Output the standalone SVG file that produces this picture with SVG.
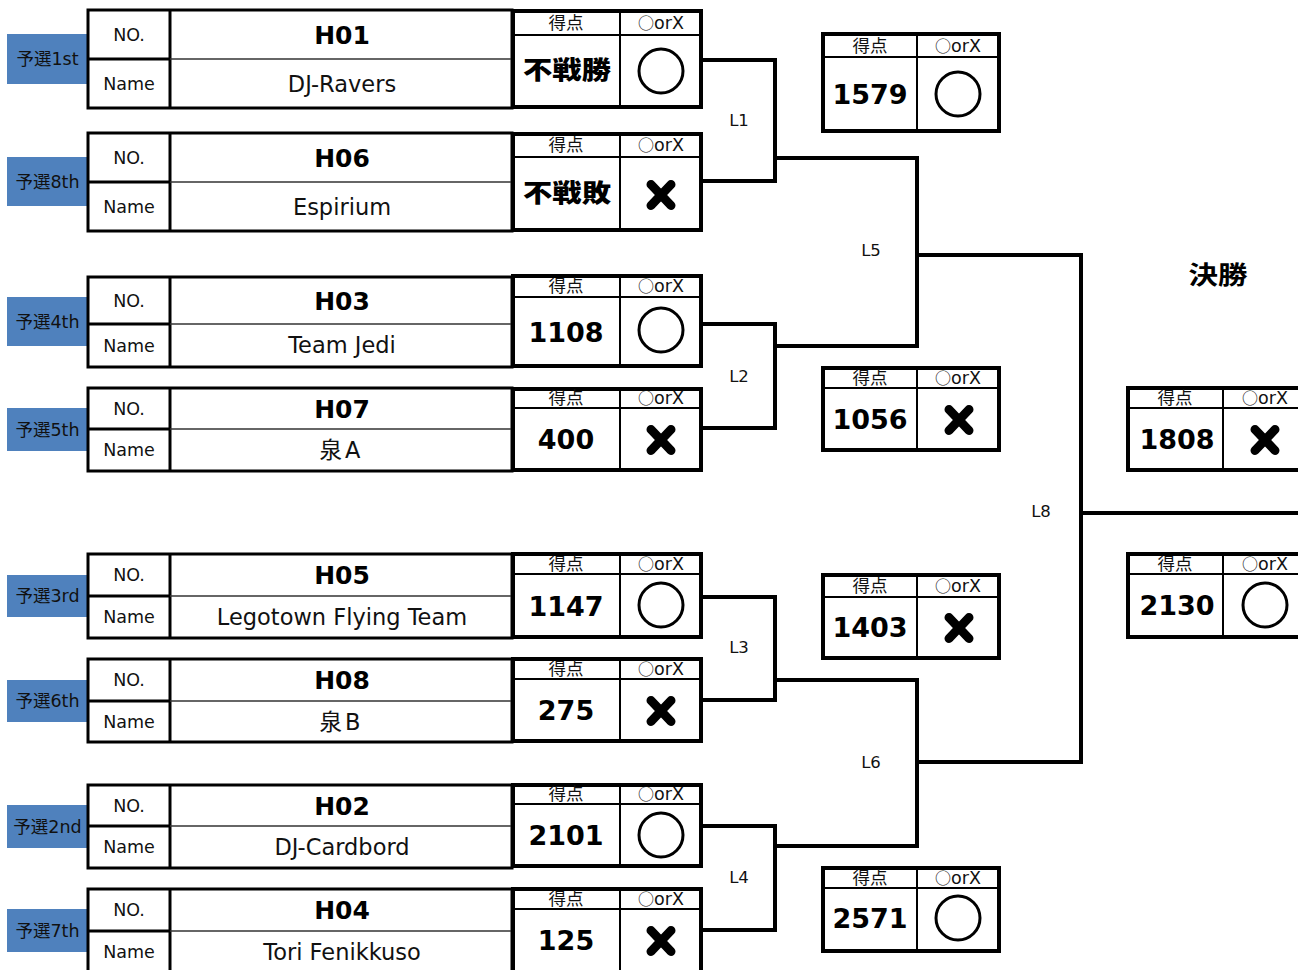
<svg xmlns="http://www.w3.org/2000/svg" width="1298" height="970" viewBox="0 0 1298 970">
<style>
text{font-family:"DejaVu Sans","Noto Sans CJK JP",sans-serif;fill:#111;text-anchor:middle}
.lbl{font-size:17.5px}
.code{font-size:25px;font-weight:bold;fill:#000}
.team{font-size:22.5px}
.hdr{font-size:17.5px}
.hdr tspan{font-family:"Noto Sans CJK JP",sans-serif;font-size:16px}
.num{font-size:27px;font-weight:bold;fill:#000}
.big{font-family:"Noto Sans CJK JP",sans-serif;font-size:25px;font-weight:900;fill:#000}
.ln{font-size:16.5px}
.badge{fill:#4F81BD}
.tbl{fill:#fff;stroke:#000;stroke-width:3}
.thick{stroke:#000;stroke-width:3}
.thin{stroke:#333;stroke-width:1.5}
.box{fill:#fff;stroke:#000;stroke-width:4}
.sep{stroke:#000;stroke-width:2}
.circ{fill:none;stroke:#000;stroke-width:3}
.cross{stroke:#000;stroke-width:9;stroke-linecap:round}
.conn{fill:none;stroke:#000;stroke-width:4}
</style>
<defs>
<g id="mk-o"><circle cx="0" cy="0" r="22" class="circ"/></g>
<g id="mk-x"><line x1="-10" y1="-10.5" x2="10" y2="10.5" class="cross"/><line x1="10" y1="-10.5" x2="-10" y2="10.5" class="cross"/></g>
</defs>
<rect width="1298" height="970" fill="#fff"/>

<g id="connectors">
<path class="conn" d="M702,60 H775 V181 H702"/>
<path class="conn" d="M702,324 H775 V428 H702"/>
<path class="conn" d="M702,597 H775 V700 H702"/>
<path class="conn" d="M702,826 H775 V930 H702"/>
<path class="conn" d="M775,158 H917 V346 H775"/>
<path class="conn" d="M775,680 H917 V846 H775"/>
<path class="conn" d="M917,255 H1081 V762 H917"/>
<path class="conn" d="M1081,513 H1300"/>
<text class="ln" x="739" y="126">L1</text>
<text class="ln" x="739" y="382">L2</text>
<text class="ln" x="739" y="653">L3</text>
<text class="ln" x="739" y="883">L4</text>
<text class="ln" x="871" y="256">L5</text>
<text class="ln" x="871" y="768">L6</text>
<text class="ln" x="1041" y="517">L8</text>
</g>

<!-- Row 1 -->
<g id="team-h01">
<rect class="badge" x="7" y="34" width="81" height="50"/>
<text class="lbl" x="47.5" y="65.4">予選1st</text>
<rect class="tbl" x="88" y="10" width="424" height="98"/>
<line class="thick" x1="170" y1="10" x2="170" y2="108"/>
<line class="thick" x1="88" y1="59" x2="170" y2="59"/>
<line class="thin" x1="170" y1="59" x2="512" y2="59"/>
<text class="lbl" x="129" y="40.9">NO.</text>
<text class="lbl" x="129" y="89.9">Name</text>
<text class="code" x="342" y="43.6">H01</text>
<text class="team" x="342" y="91.7">DJ-Ravers</text>
</g>
<g id="score-h01">
<rect class="box" x="513" y="11" width="188" height="96"/>
<line class="sep" x1="513" y1="35" x2="701" y2="35"/>
<line class="sep" x1="620" y1="11" x2="620" y2="107"/>
<text class="hdr" x="566" y="28.5">得点</text>
<text class="hdr" x="661" y="28.5"><tspan>○</tspan>orX</text>
<text class="big" x="567" y="79" textLength="88" lengthAdjust="spacingAndGlyphs">不戦勝</text>
<use href="#mk-o" x="661" y="71"/>
</g>

<!-- Row 2 -->
<g id="team-h06">
<rect class="badge" x="7" y="157" width="81" height="49"/>
<text class="lbl" x="47.5" y="187.9">予選8th</text>
<rect class="tbl" x="88" y="133" width="424" height="98"/>
<line class="thick" x1="170" y1="133" x2="170" y2="231"/>
<line class="thick" x1="88" y1="182" x2="170" y2="182"/>
<line class="thin" x1="170" y1="182" x2="512" y2="182"/>
<text class="lbl" x="129" y="163.9">NO.</text>
<text class="lbl" x="129" y="212.9">Name</text>
<text class="code" x="342" y="166.6">H06</text>
<text class="team" x="342" y="214.7">Espirium</text>
</g>
<g id="score-h06">
<rect class="box" x="513" y="134" width="188" height="96"/>
<line class="sep" x1="513" y1="157" x2="701" y2="157"/>
<line class="sep" x1="620" y1="134" x2="620" y2="230"/>
<text class="hdr" x="566" y="151">得点</text>
<text class="hdr" x="661" y="151"><tspan>○</tspan>orX</text>
<text class="big" x="567" y="202" textLength="88" lengthAdjust="spacingAndGlyphs">不戦敗</text>
<use href="#mk-x" x="661" y="195"/>
</g>

<!-- Row 3 -->
<g id="team-h03">
<rect class="badge" x="7" y="297" width="81" height="49"/>
<text class="lbl" x="47.5" y="327.9">予選4th</text>
<rect class="tbl" x="88" y="277" width="424" height="90"/>
<line class="thick" x1="170" y1="277" x2="170" y2="367"/>
<line class="thick" x1="88" y1="324" x2="170" y2="324"/>
<line class="thin" x1="170" y1="324" x2="512" y2="324"/>
<text class="lbl" x="129" y="306.9">NO.</text>
<text class="lbl" x="129" y="351.9">Name</text>
<text class="code" x="342" y="309.6">H03</text>
<text class="team" x="342" y="353.2">Team Jedi</text>
</g>
<g id="score-h03">
<rect class="box" x="513" y="276" width="188" height="90"/>
<line class="sep" x1="513" y1="297" x2="701" y2="297"/>
<line class="sep" x1="620" y1="276" x2="620" y2="366"/>
<text class="hdr" x="566" y="292">得点</text>
<text class="hdr" x="661" y="292"><tspan>○</tspan>orX</text>
<text class="num" x="566" y="341.5">1108</text>
<use href="#mk-o" x="661" y="330"/>
</g>

<!-- Row 4 -->
<g id="team-h07">
<rect class="badge" x="7" y="408" width="81" height="43"/>
<text class="lbl" x="47.5" y="435.9">予選5th</text>
<rect class="tbl" x="88" y="388" width="424" height="83"/>
<line class="thick" x1="170" y1="388" x2="170" y2="471"/>
<line class="thick" x1="88" y1="429" x2="170" y2="429"/>
<line class="thin" x1="170" y1="429" x2="512" y2="429"/>
<text class="lbl" x="129" y="414.9">NO.</text>
<text class="lbl" x="129" y="456.4">Name</text>
<text class="code" x="342" y="417.6">H07</text>
<text class="team" x="340" y="458.2">泉<tspan dx="3">A</tspan></text>
</g>
<g id="score-h07">
<rect class="box" x="513" y="389" width="188" height="81"/>
<line class="sep" x1="513" y1="408" x2="701" y2="408"/>
<line class="sep" x1="620" y1="389" x2="620" y2="470"/>
<text class="hdr" x="566" y="404">得点</text>
<text class="hdr" x="661" y="404"><tspan>○</tspan>orX</text>
<text class="num" x="566" y="449">400</text>
<use href="#mk-x" x="661" y="440"/>
</g>

<!-- Row 5 -->
<g id="team-h05">
<rect class="badge" x="7" y="575" width="81" height="42"/>
<text class="lbl" x="47.5" y="602.4">予選3rd</text>
<rect class="tbl" x="88" y="554" width="424" height="84"/>
<line class="thick" x1="170" y1="554" x2="170" y2="638"/>
<line class="thick" x1="88" y1="596" x2="170" y2="596"/>
<line class="thin" x1="170" y1="596" x2="512" y2="596"/>
<text class="lbl" x="129" y="581.4">NO.</text>
<text class="lbl" x="129" y="623.4">Name</text>
<text class="code" x="342" y="584.1">H05</text>
<text class="team" x="342" y="625.2">Legotown Flying Team</text>
</g>
<g id="score-h05">
<rect class="box" x="513" y="554" width="188" height="83"/>
<line class="sep" x1="513" y1="574" x2="701" y2="574"/>
<line class="sep" x1="620" y1="554" x2="620" y2="637"/>
<text class="hdr" x="566" y="569.5">得点</text>
<text class="hdr" x="661" y="569.5"><tspan>○</tspan>orX</text>
<text class="num" x="566" y="615.5">1147</text>
<use href="#mk-o" x="661" y="605"/>
</g>

<!-- Row 6 -->
<g id="team-h08">
<rect class="badge" x="7" y="680" width="81" height="42"/>
<text class="lbl" x="47.5" y="707.4">予選6th</text>
<rect class="tbl" x="88" y="659" width="424" height="83"/>
<line class="thick" x1="170" y1="659" x2="170" y2="742"/>
<line class="thick" x1="88" y1="701" x2="170" y2="701"/>
<line class="thin" x1="170" y1="701" x2="512" y2="701"/>
<text class="lbl" x="129" y="686.4">NO.</text>
<text class="lbl" x="129" y="727.9">Name</text>
<text class="code" x="342" y="689.1">H08</text>
<text class="team" x="340" y="729.7">泉<tspan dx="3">B</tspan></text>
</g>
<g id="score-h08">
<rect class="box" x="513" y="659" width="188" height="82"/>
<line class="sep" x1="513" y1="679" x2="701" y2="679"/>
<line class="sep" x1="620" y1="659" x2="620" y2="741"/>
<text class="hdr" x="566" y="674.5">得点</text>
<text class="hdr" x="661" y="674.5"><tspan>○</tspan>orX</text>
<text class="num" x="566" y="720">275</text>
<use href="#mk-x" x="661" y="711"/>
</g>

<!-- Row 7 -->
<g id="team-h02">
<rect class="badge" x="7" y="805" width="81" height="43"/>
<text class="lbl" x="47.5" y="832.9">予選2nd</text>
<rect class="tbl" x="88" y="785" width="424" height="83"/>
<line class="thick" x1="170" y1="785" x2="170" y2="868"/>
<line class="thick" x1="88" y1="826" x2="170" y2="826"/>
<line class="thin" x1="170" y1="826" x2="512" y2="826"/>
<text class="lbl" x="129" y="811.9">NO.</text>
<text class="lbl" x="129" y="853.4">Name</text>
<text class="code" x="342" y="814.6">H02</text>
<text class="team" x="342" y="855.2">DJ-Cardbord</text>
</g>
<g id="score-h02">
<rect class="box" x="513" y="785" width="188" height="81"/>
<line class="sep" x1="513" y1="804" x2="701" y2="804"/>
<line class="sep" x1="620" y1="785" x2="620" y2="866"/>
<text class="hdr" x="566" y="800">得点</text>
<text class="hdr" x="661" y="800"><tspan>○</tspan>orX</text>
<text class="num" x="566" y="845">2101</text>
<use href="#mk-o" x="661" y="835"/>
</g>

<!-- Row 8 -->
<g id="team-h04">
<rect class="badge" x="7" y="909" width="81" height="43"/>
<text class="lbl" x="47.5" y="936.9">予選7th</text>
<rect class="tbl" x="88" y="889" width="424" height="84"/>
<line class="thick" x1="170" y1="889" x2="170" y2="973"/>
<line class="thick" x1="88" y1="931" x2="170" y2="931"/>
<line class="thin" x1="170" y1="931" x2="512" y2="931"/>
<text class="lbl" x="129" y="916.4">NO.</text>
<text class="lbl" x="129" y="958.4">Name</text>
<text class="code" x="342" y="919.1">H04</text>
<text class="team" x="342" y="960.2">Tori Fenikkuso</text>
</g>
<g id="score-h04">
<rect class="box" x="513" y="889" width="188" height="84"/>
<line class="sep" x1="513" y1="909" x2="701" y2="909"/>
<line class="sep" x1="620" y1="889" x2="620" y2="973"/>
<text class="hdr" x="566" y="904.5">得点</text>
<text class="hdr" x="661" y="904.5"><tspan>○</tspan>orX</text>
<text class="num" x="566" y="950">125</text>
<use href="#mk-x" x="661" y="941"/>
</g>

<!-- Semifinal boxes -->
<g id="score-l1">
<rect class="box" x="823" y="34" width="176" height="97"/>
<line class="sep" x1="823" y1="57" x2="999" y2="57"/>
<line class="sep" x1="917" y1="34" x2="917" y2="131"/>
<text class="hdr" x="870" y="52">得点</text>
<text class="hdr" x="958" y="52"><tspan>○</tspan>orX</text>
<text class="num" x="870" y="104">1579</text>
<use href="#mk-o" x="958" y="94"/>
</g>
<g id="score-l2">
<rect class="box" x="823" y="368" width="176" height="82"/>
<line class="sep" x1="823" y1="388" x2="999" y2="388"/>
<line class="sep" x1="917" y1="368" x2="917" y2="450"/>
<text class="hdr" x="870" y="384">得点</text>
<text class="hdr" x="958" y="384"><tspan>○</tspan>orX</text>
<text class="num" x="870" y="429">1056</text>
<use href="#mk-x" x="959" y="420"/>
</g>
<g id="score-l3">
<rect class="box" x="823" y="575" width="176" height="83"/>
<line class="sep" x1="823" y1="597" x2="999" y2="597"/>
<line class="sep" x1="917" y1="575" x2="917" y2="658"/>
<text class="hdr" x="870" y="592">得点</text>
<text class="hdr" x="958" y="592"><tspan>○</tspan>orX</text>
<text class="num" x="870" y="637">1403</text>
<use href="#mk-x" x="959" y="628"/>
</g>
<g id="score-l4">
<rect class="box" x="823" y="868" width="176" height="83"/>
<line class="sep" x1="823" y1="888" x2="999" y2="888"/>
<line class="sep" x1="917" y1="868" x2="917" y2="951"/>
<text class="hdr" x="870" y="884">得点</text>
<text class="hdr" x="958" y="884"><tspan>○</tspan>orX</text>
<text class="num" x="870" y="928">2571</text>
<use href="#mk-o" x="958" y="918"/>
</g>

<!-- Final -->
<g id="final-title">
<text x="1218" y="284" style="font-size:25px;font-weight:bold;fill:#000" textLength="59" lengthAdjust="spacingAndGlyphs">決勝</text>
</g>
<g id="score-l5">
<rect class="box" x="1128" y="388" width="180" height="82"/>
<line class="sep" x1="1128" y1="408" x2="1308" y2="408"/>
<line class="sep" x1="1223" y1="388" x2="1223" y2="470"/>
<text class="hdr" x="1175" y="404">得点</text>
<text class="hdr" x="1265" y="404"><tspan>○</tspan>orX</text>
<text class="num" x="1177" y="449">1808</text>
<use href="#mk-x" x="1265" y="440"/>
</g>
<g id="score-l6">
<rect class="box" x="1128" y="554" width="180" height="83"/>
<line class="sep" x1="1128" y1="574" x2="1308" y2="574"/>
<line class="sep" x1="1223" y1="554" x2="1223" y2="637"/>
<text class="hdr" x="1175" y="570">得点</text>
<text class="hdr" x="1265" y="570"><tspan>○</tspan>orX</text>
<text class="num" x="1177" y="615">2130</text>
<use href="#mk-o" x="1265" y="605"/>
</g>
</svg>
